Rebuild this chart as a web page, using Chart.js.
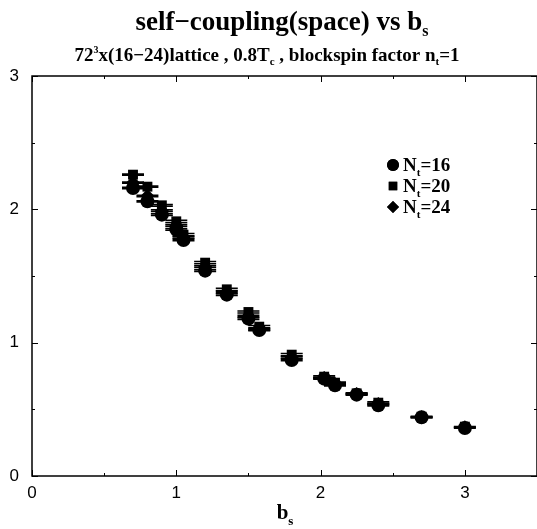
<!DOCTYPE html>
<html>
<head>
<meta charset="utf-8">
<script src="https://cdn.jsdelivr.net/npm/chart.js@4/dist/chart.umd.min.js"></script>
<style>
  html, body { margin: 0; padding: 0; background: #fff; overflow: hidden; }
  /* plot frame runs past the right edge of the window */
  #wrap { width: 544px; height: 529px; }
</style>
</head>
<body>
<div id="wrap"><canvas id="c"></canvas></div>
<script>
// blocking size b_s and self-coupling for each temporal extent
const bs = [0.7, 0.8, 0.9, 1.0, 1.05, 1.2, 1.35, 1.5, 1.575, 1.8, 2.025, 2.1, 2.25, 2.4, 2.7, 3.0];
const coupling16 = [2.16, 2.06, 1.96, 1.85, 1.77, 1.54, 1.36, 1.18, 1.095, 0.87, 0.73, 0.68, 0.61, 0.53, 0.44, 0.36];
const coupling20 = [2.26, 2.17, 2.03, 1.91, 1.81, 1.60, 1.40, 1.23, 1.12, 0.91, 0.745, 0.70, 0.62, 0.55, 0.445, 0.37];
const coupling24 = [2.20, 2.10, 1.99, 1.88, 1.79, 1.57, 1.38, 1.20, 1.10, 0.89, 0.735, 0.69, 0.615, 0.54, 0.44, 0.365];
const err16 = [0.005, 0.005, 0.006, 0.006, 0.006, 0.006, 0.006, 0.006, 0.006, 0.006, 0.005, 0.005, 0.005, 0.005, 0.003, 0.002];
const err20 = [0.005, 0.005, 0.006, 0.008, 0.008, 0.008, 0.008, 0.008, 0.008, 0.008, 0.006, 0.005, 0.005, 0.006, 0.003, 0.002];
const err24 = [0.005, 0.005, 0.006, 0.006, 0.006, 0.006, 0.006, 0.006, 0.006, 0.006, 0.005, 0.005, 0.005, 0.005, 0.003, 0.002];

const xMajor = [0, 1, 2, 3];
const xMinor = [0.5, 1.5, 2.5];
const yMajor = [0, 1, 2, 3];
const yMinor = [0.5, 1.5, 2.5];

const SERIF = '"Liberation Serif", "Times New Roman", serif';
const SANS = '"Liberation Sans", Arial, sans-serif';

function points(ys, errs) {
  return bs.map((x, i) => ({ x: x, y: ys[i], err: errs[i] }));
}

const datasets = [
  { label: '16', data: points(coupling16, err16), pointStyle: 'circle', pointRadius: 7 },
  { label: '20', data: points(coupling20, err20), pointStyle: 'rect', pointRadius: 7 },
  { label: '24', data: points(coupling24, err24), pointStyle: 'rectRot', pointRadius: 7 },
].map(d => Object.assign(d, {
  backgroundColor: '#000',
  borderColor: '#000',
  borderWidth: 0,
  showLine: false,
}));

// draws a run of text pieces, each with its own font and vertical shift
function drawRun(ctx, parts, x, y, align) {
  let total = 0;
  parts.forEach(p => { ctx.font = p.font; total += ctx.measureText(p.text).width; });
  let cx = align === 'center' ? x - total / 2 : x;
  ctx.textAlign = 'left';
  ctx.textBaseline = 'alphabetic';
  parts.forEach(p => {
    ctx.font = p.font;
    ctx.fillText(p.text, cx, y + (p.dy || 0));
    cx += ctx.measureText(p.text).width;
  });
}

const errorBars = {
  id: 'errorBars',
  beforeDatasetsDraw(chart) {
    const { ctx, scales: { x, y } } = chart;
    ctx.save();
    ctx.strokeStyle = '#000';
    ctx.lineWidth = 1.5;
    chart.data.datasets.forEach(ds => {
      ds.data.forEach(p => {
        const px = x.getPixelForValue(p.x);
        const top = y.getPixelForValue(p.y + p.err);
        const bot = y.getPixelForValue(p.y - p.err);
        ctx.beginPath();
        ctx.moveTo(px, top); ctx.lineTo(px, bot);
        ctx.moveTo(px - 11, top); ctx.lineTo(px + 11, top);
        ctx.moveTo(px - 11, bot); ctx.lineTo(px + 11, bot);
        ctx.stroke();
      });
    });
    ctx.restore();
  }
};

const frame = {
  id: 'frame',
  afterDraw(chart) {
    const { ctx, chartArea: a, scales: { x, y } } = chart;
    ctx.save();
    ctx.strokeStyle = '#000';
    ctx.lineWidth = 1.5;
    ctx.strokeRect(a.left, a.top, a.right - a.left, a.bottom - a.top);
    ctx.lineWidth = 1;
    const tick = (vals, len) => {
      vals.forEach(v => {
        const px = Math.round(x.getPixelForValue(v)) + 0.5;
        ctx.beginPath();
        ctx.moveTo(px, a.bottom); ctx.lineTo(px, a.bottom - len);
        ctx.moveTo(px, a.top); ctx.lineTo(px, a.top + len);
        ctx.stroke();
      });
    };
    const ytick = (vals, len) => {
      vals.forEach(v => {
        const py = Math.round(y.getPixelForValue(v)) + 0.5;
        ctx.beginPath();
        ctx.moveTo(a.left, py); ctx.lineTo(a.left + len, py);
        ctx.moveTo(a.right, py); ctx.lineTo(a.right - len, py);
        ctx.stroke();
      });
    };
    tick(xMajor, 6); tick(xMinor, 3);
    ytick(yMajor, 6); ytick(yMinor, 3);

    ctx.fillStyle = '#000';
    drawRun(ctx, [
      { text: 'self\u2212coupling(space) vs b', font: 'bold 27px ' + SERIF },
      { text: 's', font: 'bold 16px ' + SERIF, dy: 6 },
    ], 282, 30, 'center');
    drawRun(ctx, [
      { text: '72', font: 'bold 19px ' + SERIF },
      { text: '3', font: 'bold 10px ' + SERIF, dy: -8 },
      { text: 'x(16\u221224)lattice , 0.8T', font: 'bold 19px ' + SERIF },
      { text: 'c', font: 'bold 11px ' + SERIF, dy: 4 },
      { text: ' , blockspin factor n', font: 'bold 19px ' + SERIF },
      { text: 't', font: 'bold 11px ' + SERIF, dy: 4 },
      { text: '=1', font: 'bold 19px ' + SERIF },
    ], 267, 61, 'center');
    drawRun(ctx, [
      { text: 'b', font: 'bold 21px ' + SERIF },
      { text: 's', font: 'bold 13px ' + SERIF, dy: 6 },
    ], 285, 519, 'center');

    // legend
    chart.data.datasets.forEach((ds, i) => {
      const ly = 165 + i * 21;
      Chart.helpers.drawPoint(ctx, { pointStyle: ds.pointStyle, radius: 6, borderWidth: 0 }, 393, ly);
      ctx.fill();
      drawRun(ctx, [
        { text: 'N', font: 'bold 19px ' + SERIF },
        { text: 't', font: 'bold 11px ' + SERIF, dy: 5 },
        { text: '=' + ds.label, font: 'bold 19px ' + SERIF },
      ], 403, ly + 6, 'left');
    });
    ctx.restore();
  }
};

new Chart(document.getElementById('c'), {
  type: 'scatter',
  data: { datasets },
  options: {
    responsive: true,
    maintainAspectRatio: false,
    animation: false,
    layout: { padding: { top: 76, right: 0, left: 0, bottom: 0 } },
    plugins: { legend: { display: false }, tooltip: { enabled: false } },
    scales: {
      x: {
        type: 'linear', min: 0, max: 3.5,
        afterBuildTicks: s => { s.ticks = xMajor.map(v => ({ value: v })); },
        afterFit: s => { s.height = 53; },
        grid: { display: false, drawTicks: false },
        border: { display: false },
        ticks: { color: '#000', padding: 7, font: { family: SANS, size: 17 } },
      },
      y: {
        type: 'linear', min: 0, max: 3,
        afterBuildTicks: s => { s.ticks = yMajor.map(v => ({ value: v })); },
        afterFit: s => { s.width = 32; },
        grid: { display: false, drawTicks: false },
        border: { display: false },
        ticks: { color: '#000', padding: 13, font: { family: SANS, size: 17 } },
      },
    },
  },
  plugins: [errorBars, frame],
});
</script>
</body>
</html>
